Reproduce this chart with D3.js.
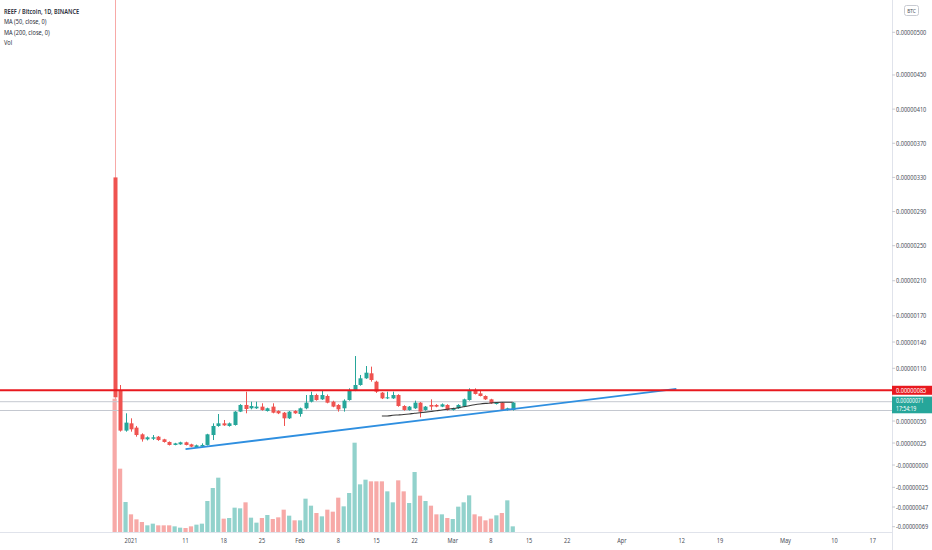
<!doctype html>
<html lang="en">
  <head>
    <meta charset="UTF-8" />
    <title>REEF / Bitcoin, 1D, BINANCE</title>
    <style>
      body { margin: 0; background: #fff; }
      text { font-family: 'Noto Sans', 'Open Sans', sans-serif; }
    </style>
  </head>
  <body>
    <div id="chart"></div>
    <script src="https://d3js.org/d3.v7.min.js"></script>
    <script>
      // one candle per day starting here
      const firstDay = '2020-12-29';

      // prices in satoshi (1e-8 BTC)
      const open = [330, 85.3, 39.1, 47.4, 42.5, 34.9, 29.2, 29.9, 32.2, 29.2, 26.2, 22.8, 23.5, 25.8, 23.5, 20.1, 20.9, 22.8, 34.1, 44.4,
        47.4, 44.4, 45.5, 60.7, 68.3, 64.5, 64.5, 66.4, 61.4, 66.4, 61.4, 59.5, 53.1, 61.4, 58.0, 64.5, 72.0, 79.6, 74.7, 78.5,
        72.0, 68.3, 64.5, 73.9, 84.6, 91.0, 98.6, 104.3, 94.8, 82.3, 75.8, 75.8, 79.6, 67.1, 62.6, 64.5, 70.9, 62.6, 68.3, 68.3,
        66.4, 68.3, 62.6, 64.5, 66.4, 73.9, 84.6, 81.5, 78.5, 74.7, 69.4, 70.9, 62.6, 62.6];
      const high = [700, 91.0, 58.8, 53.1, 44.4, 36.0, 32.5, 34.1, 33.0, 29.8, 26.8, 25.2, 26.5, 26.5, 24.2, 23.2, 24.6, 35.5, 47.4, 58.0,
        51.2, 48.3, 61.3, 69.2, 83.4, 72.0, 72.0, 70.2, 65.2, 70.2, 62.2, 60.3, 61.4, 62.3, 65.3, 79.6, 83.4, 81.1, 84.6, 80.2,
        73.1, 69.2, 74.7, 87.2, 124, 102.4, 112.6, 111.9, 95.9, 83.0, 83.4, 83.4, 80.5, 68.0, 67.1, 73.2, 71.6, 67.1, 74.7, 69.2,
        70.0, 69.1, 65.2, 69.2, 75.5, 87.2, 87.2, 85.3, 79.2, 75.3, 71.6, 71.6, 65.2, 71.6];
      const low = [75, 38.0, 37.9, 37.9, 32.2, 26.6, 28.0, 28.4, 27.5, 25.5, 22.2, 22.4, 23.0, 22.3, 20.3, 19.6, 20.4, 22.2, 28.4, 43.5,
        44.5, 43.6, 44.8, 60.2, 58.8, 63.3, 63.8, 61.8, 60.8, 58.8, 57.9, 44.4, 52.3, 58.2, 55.0, 63.4, 71.2, 73.2, 74.0, 70.2,
        65.7, 60.7, 60.7, 73.2, 84.0, 90.2, 98.0, 94.8, 82.0, 75.0, 75.0, 75.2, 66.3, 61.8, 61.9, 63.8, 54.2, 61.8, 62.6, 65.7,
        65.8, 61.9, 61.9, 63.8, 65.8, 73.2, 80.2, 78.0, 74.0, 69.6, 68.8, 61.9, 61.9, 61.9];
      const close = [77, 39.1, 48.2, 40.6, 34.1, 29.2, 31.5, 31.5, 28.4, 26.2, 22.8, 24.6, 25.8, 22.8, 20.9, 22.4, 22.8, 34.9, 44.4, 47.4,
        45.1, 47.4, 60.7, 68.3, 63.7, 67.1, 66.4, 62.6, 64.5, 59.5, 58.8, 53.1, 60.7, 58.8, 64.5, 70.9, 79.6, 73.9, 79.6, 70.9,
        66.4, 63.3, 73.2, 84.6, 91.0, 98.6, 105.0, 96.7, 83.4, 75.8, 77.0, 79.6, 67.1, 62.6, 66.4, 70.9, 60.7, 66.4, 66.4, 66.4,
        69.0, 62.6, 64.5, 68.3, 74.7, 84.6, 80.8, 78.5, 74.7, 70.2, 70.9, 62.6, 64.5, 71];
      // volume, relative units
      const volume = [400, 190, 90, 53, 38, 30, 20, 25, 20, 20, 20, 17, 13, 12, 17, 22, 25, 93, 132, 163,
        40, 42, 73, 71, 89, 43, 28, 42, 51, 39, 44, 67, 49, 35, 35, 100, 79, 57, 47, 67,
        61, 103, 77, 117, 268, 143, 157, 152, 152, 152, 122, 89, 155, 122, 87, 180, 109, 93, 79, 53,
        53, 42, 39, 76, 89, 110, 53, 47, 35, 40, 50, 57, 95, 17];

      // axis ticks
      const dateTicks = ['2021-01-01', '2021-01-11', '2021-01-18', '2021-01-25', '2021-02-01', '2021-02-08', '2021-02-15', '2021-02-22',
        '2021-03-01', '2021-03-08', '2021-03-15', '2021-03-22', '2021-04-01', '2021-04-12', '2021-04-19', '2021-05-01', '2021-05-10', '2021-05-17'];
      const dateTickLabels = ['2021', '11', '18', '25', 'Feb', '8', '15', '22', 'Mar', '8', '15', '22', 'Apr', '12', '19', 'May', '10', '17'];
      const priceTicks = [500, 450, 410, 370, 330, 290, 250, 210, 170, 140, 110, 50, 25, 0, -25, -47, -69];
      const priceTickLabels = ['0.00000500', '0.00000450', '0.00000410', '0.00000370', '0.00000330', '0.00000290', '0.00000250',
        '0.00000210', '0.00000170', '0.00000140', '0.00000110', '0.00000050', '0.00000025', '-0.00000000', '-0.00000025',
        '-0.00000047', '-0.00000069'];

      // drawings
      const resistance = 85;
      const greyLevels = [72, 62];
      const trendDates = ['2021-01-11', '2021-04-11'];
      const trendPrices = [18, 86.5];
      const countdown = '17:54:19';
      const legendLines = ['REEF / Bitcoin, 1D, BINANCE', 'MA (50, close, 0)', 'MA (200, close, 0)', 'Vol'];

      const width = 932;
      const height = 550;
      const plotRight = 892;
      const plotBottom = 532;
      const up = '#26a69a';
      const down = '#ef5350';

      const svg = d3.select('#chart').append('svg').attr('width', width).attr('height', height);
      svg.append('rect').attr('width', width).attr('height', height).attr('fill', '#fff');

      const x = d3.scaleUtc().domain([new Date('2021-01-01'), new Date('2021-05-17')]).range([131, 872.7]);
      const y = d3.scaleLinear().domain([-69, 0, 110, 250, 500]).range([526.7, 465, 368.3, 245.7, 32.3]);
      const vy = d3.scaleLinear().domain([0, 400]).range([plotBottom, 398.7]);

      const candles = open.map((o, i) => ({
        date: d3.utcDay.offset(new Date(firstDay), i),
        o, h: high[i], l: low[i], c: close[i], v: volume[i],
      }));

      // moving average of 50 closes
      const ma50 = candles
        .map((d, i) => (i < 49 ? null : { date: d.date, v: d3.mean(close.slice(i - 49, i + 1)) }))
        .filter((d) => d);

      svg.append('clipPath').attr('id', 'plot').append('rect').attr('width', plotRight).attr('height', plotBottom);
      const plot = svg.append('g').attr('clip-path', 'url(#plot)');

      // volume bars
      plot.selectAll('.vol').data(candles).enter().append('rect')
        .attr('x', (d) => x(d.date) - 2.1)
        .attr('width', 4.2)
        .attr('y', (d) => vy(d.v))
        .attr('height', (d) => plotBottom - vy(d.v))
        .attr('fill', (d) => (d.c >= d.o ? up : down))
        .attr('fill-opacity', 0.5);

      // horizontal grey levels
      plot.selectAll('.lvl').data(greyLevels).enter().append('line')
        .attr('x1', 0).attr('x2', plotRight)
        .attr('y1', (d) => y(d)).attr('y2', (d) => y(d))
        .attr('stroke', '#c4c8d0').attr('stroke-width', 1);

      // candles
      const c = plot.selectAll('.candle').data(candles).enter().append('g');
      c.append('line')
        .attr('x1', (d) => Math.round(x(d.date)) + 0.5).attr('x2', (d) => Math.round(x(d.date)) + 0.5)
        .attr('y1', (d) => y(d.h)).attr('y2', (d) => y(d.l))
        .attr('stroke', (d) => (d.c >= d.o ? up : down))
        .attr('stroke-opacity', (d) => (d.h > 500 ? 0.5 : 1));
      c.append('rect')
        .attr('x', (d) => Math.round(x(d.date)) - 1.5)
        .attr('width', 4)
        .attr('y', (d) => y(Math.max(d.o, d.c)))
        .attr('height', (d) => Math.max(1, Math.abs(y(d.o) - y(d.c))))
        .attr('fill', (d) => (d.c >= d.o ? up : down));

      // MA 50
      plot.append('path').datum(ma50)
        .attr('d', d3.line().x((d) => x(d.date)).y((d) => y(d.v)).curve(d3.curveMonotoneX))
        .attr('fill', 'none').attr('stroke', '#3a3a3a').attr('stroke-width', 1.1);

      // trend line
      plot.append('line')
        .attr('x1', x(new Date(trendDates[0]))).attr('y1', y(trendPrices[0]))
        .attr('x2', x(new Date(trendDates[1]))).attr('y2', y(trendPrices[1]))
        .attr('stroke', '#2f8fe0').attr('stroke-width', 1.8);

      // resistance
      plot.append('line')
        .attr('x1', 0).attr('x2', plotRight)
        .attr('y1', y(resistance)).attr('y2', y(resistance))
        .attr('stroke', '#e8191f').attr('stroke-width', 2);

      // frame
      svg.append('line').attr('x1', plotRight + 0.5).attr('x2', plotRight + 0.5).attr('y1', 0).attr('y2', height)
        .attr('stroke', '#e0e3eb');
      svg.append('line').attr('x1', 0).attr('x2', plotRight).attr('y1', plotBottom + 0.5).attr('y2', plotBottom + 0.5)
        .attr('stroke', '#e0e3eb');

      // squeezed text, the screenshot is narrow
      function label(g, tx, ty, str, opts = {}) {
        return g.append('text')
          .attr('transform', `translate(${tx},${ty}) scale(${opts.sx || 0.8},1)`)
          .attr('text-anchor', opts.anchor || 'start')
          .attr('font-size', opts.size || 7)
          .attr('font-weight', opts.weight || 400)
          .attr('fill', opts.fill || '#4a4e58')
          .text(str);
      }

      // bottom axis
      dateTicks.forEach((d, i) => label(svg, x(new Date(d)), 543, dateTickLabels[i], { anchor: 'middle' }));

      // right axis
      priceTicks.forEach((p, i) => {
        svg.append('line').attr('x1', plotRight).attr('x2', plotRight + 3)
          .attr('y1', y(p)).attr('y2', y(p)).attr('stroke', '#c8cbd2');
        label(svg, 896, y(p) + 2.5, priceTickLabels[i]);
      });

      // price labels
      const ry = y(resistance);
      svg.append('rect').attr('x', plotRight).attr('y', ry - 4.5).attr('width', width - plotRight).attr('height', 9)
        .attr('fill', '#e8191f');
      label(svg, 896, ry + 2.5, d3.format('.8f')(resistance / 1e8), { fill: '#fff' });

      const last = close[close.length - 1];
      const ly = y(last);
      svg.append('rect').attr('x', plotRight).attr('y', ly - 6).attr('width', width - plotRight).attr('height', 16.7)
        .attr('fill', up);
      label(svg, 896, ly + 0.6, d3.format('.8f')(last / 1e8), { fill: '#fff', size: 6.4 });
      label(svg, 896, ly + 8.4, countdown, { fill: '#fff', size: 6.4 });

      // currency box
      svg.append('rect').attr('x', 904.5).attr('y', 5.5).attr('width', 14).attr('height', 10).attr('rx', 2)
        .attr('fill', 'none').attr('stroke', '#c8cbd2');
      label(svg, 911.5, 12.8, 'BTC', { anchor: 'middle', size: 6 });

      // legend
      legendLines.forEach((t, i) =>
        label(svg, 4, 13.5 + i * 10.6, t, { size: 7.2, sx: 0.78, fill: '#2a2e39', weight: i === 0 ? 600 : 400 })
      );
    </script>
  </body>
</html>
